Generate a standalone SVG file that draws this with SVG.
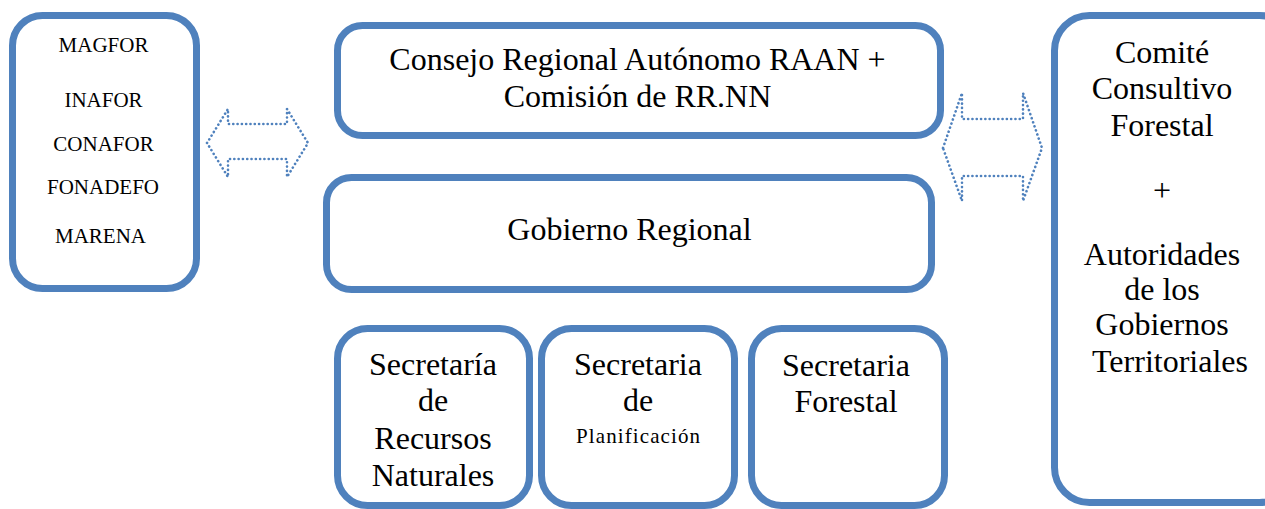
<svg xmlns="http://www.w3.org/2000/svg" width="1265" height="509" viewBox="0 0 1265 509">
<style>
.box{fill:#fff;stroke:#4F81BD;stroke-width:7}
.t{font-family:"Liberation Serif","Times New Roman",serif;font-size:32px;fill:#000;text-anchor:middle}
.s{font-family:"Liberation Serif","Times New Roman",serif;font-size:21px;fill:#000;text-anchor:middle}
.arr{fill:none;stroke:#4F81BD;stroke-width:2.6;stroke-dasharray:0.1 4.2;stroke-linecap:round;stroke-linejoin:round}
</style>
<rect width="1265" height="509" fill="#fff"/>
<g id="connectors">
<polygon class="arr" points="207,143 228,109 228,124 287,124 287,109 308,143 287,177 287,159 228,159 228,177"/>
<polygon class="arr" points="943,148 962,93 962,119 1023,119 1023,93 1042,148 1023,201 1023,176 962,176 962,201"/>
</g>
<g id="n_ministerios">
<rect class="box" x="12.5" y="15.5" width="184" height="273" rx="30"/>
<text class="s" x="103.5" y="52">MAGFOR</text>
<text class="s" x="103.5" y="107">INAFOR</text>
<text class="s" x="103.5" y="151">CONAFOR</text>
<text class="s" x="103" y="194">FONADEFO</text>
<text class="s" x="100.5" y="243">MARENA</text>
</g>
<g id="n_consejo">
<rect class="box" x="337.5" y="25.5" width="603" height="110" rx="25"/>
<text class="t" x="637.5" y="70">Consejo Regional Autónomo RAAN +</text>
<text class="t" x="637.5" y="107">Comisión de RR.NN</text>
</g>
<g id="n_gobierno">
<rect class="box" x="326.5" y="177.5" width="605" height="112" rx="25"/>
<text class="t" x="629.5" y="240">Gobierno Regional</text>
</g>
<g id="n_sec_rrnn">
<rect class="box" x="337.5" y="328.5" width="192" height="177" rx="30"/>
<text class="t" x="433" y="375">Secretaría</text>
<text class="t" x="433" y="411">de</text>
<text class="t" x="433" y="449">Recursos</text>
<text class="t" x="433" y="486">Naturales</text>
</g>
<g id="n_sec_plan">
<rect class="box" x="541.5" y="328.5" width="193" height="177" rx="30"/>
<text class="t" x="638" y="375">Secretaria</text>
<text class="t" x="638" y="411">de</text>
<text class="t" x="638" y="443" style="font-size:21px" textLength="124" lengthAdjust="spacing">Planificación</text>
</g>
<g id="n_sec_forestal">
<rect class="box" x="751.5" y="328.5" width="193" height="177" rx="30"/>
<text class="t" x="846" y="376">Secretaria</text>
<text class="t" x="846" y="412">Forestal</text>
</g>
<g id="n_comite">
<rect class="box" x="1054.5" y="15.5" width="240" height="487" rx="35"/>
<text class="t" x="1162" y="63">Comité</text>
<text class="t" x="1162" y="99">Consultivo</text>
<text class="t" x="1162" y="136">Forestal</text>
<text class="t" x="1162" y="201">+</text>
<text class="t" x="1162" y="265">Autoridades</text>
<text class="t" x="1162" y="300">de los</text>
<text class="t" x="1162" y="335">Gobiernos</text>
<text class="t" x="1170" y="372">Territoriales</text>
</g>
</svg>
